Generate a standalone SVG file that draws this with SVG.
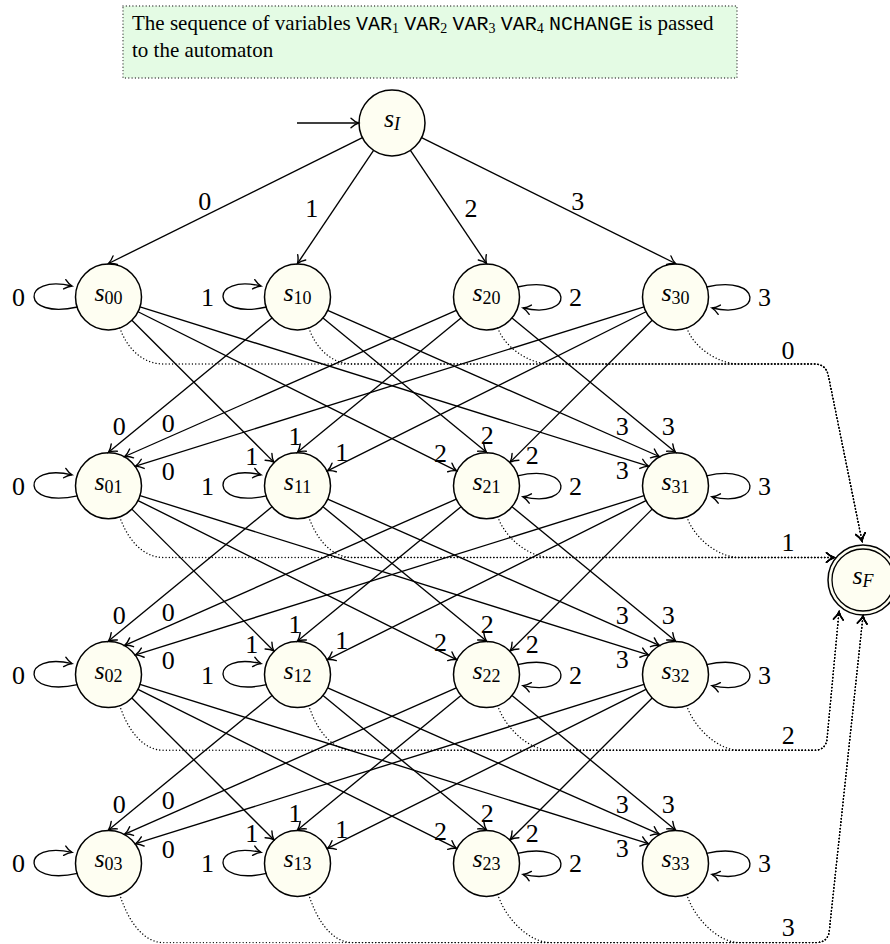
<svg xmlns="http://www.w3.org/2000/svg" width="890" height="944" viewBox="0 0 890 944">
<defs>
<marker id="arr" viewBox="-9 -6 11 12" markerWidth="11" markerHeight="12" refX="0" refY="0" orient="auto" markerUnits="userSpaceOnUse">
<path d="M -7.5 -4.8 C -5 -2.4 -2 -0.7 0 0 C -2 0.7 -5 2.4 -7.5 4.8" fill="none" stroke="#000" stroke-width="1.4" stroke-linecap="round"/>
</marker>
<style>
.e{fill:none;stroke:#000;stroke-width:1.35;marker-end:url(#arr)}
.d{fill:none;stroke:#000;stroke-width:1.4;stroke-dasharray:0.01 3.3;stroke-linecap:round;marker-end:url(#arr)}
.nc{fill:#fefef2;stroke:#000;stroke-width:1.5}
.lb{font-family:"Liberation Serif",serif;font-size:26px;text-anchor:middle;fill:#000}
.nl{font-family:"Liberation Serif",serif;font-size:26px;text-anchor:middle;fill:#000}
.nl .s{font-style:italic}
.nl .sub{font-size:18px}
.bt{font-family:"Liberation Serif",serif;font-size:21px;fill:#000}
.bt .m{font-family:"Liberation Mono",monospace;font-size:20px}
.bt .b{font-size:14px}
</style>
</defs>
<rect width="890" height="944" fill="#fff"/>

<g id="note">
<rect x="123" y="6" width="614" height="72" fill="#e4fbe4" stroke="#333" stroke-width="1.3" stroke-dasharray="0.01 3.3" stroke-linecap="round"/>
<text class="bt" x="132" y="30">The sequence of variables <tspan class="m">VAR</tspan><tspan class="b" dy="3">1</tspan><tspan dy="-3"> </tspan><tspan class="m">VAR</tspan><tspan class="b" dy="3">2</tspan><tspan dy="-3"> </tspan><tspan class="m">VAR</tspan><tspan class="b" dy="3">3</tspan><tspan dy="-3"> </tspan><tspan class="m">VAR</tspan><tspan class="b" dy="3">4</tspan><tspan dy="-3"> </tspan><tspan class="m">NCHANGE</tspan> is passed</text>
<text class="bt" x="132" y="57">to the automaton</text>
</g>

<g id="sI"><circle class="nc" cx="392" cy="123" r="33"/><text class="nl" x="392" y="127"><tspan class="s">s</tspan><tspan class="sub s" dy="3">I</tspan></text></g>
<g id="sF"><circle class="nc" cx="863" cy="580" r="35"/><circle fill="none" stroke="#000" stroke-width="1.3" cx="863" cy="580" r="31"/><text class="nl" x="863" y="584"><tspan class="s">s</tspan><tspan class="sub s" dy="3">F</tspan></text></g>

<g id="s00"><circle class="nc" cx="108.5" cy="297" r="33"/><text class="nl" x="108.5" y="301"><tspan class="s">s</tspan><tspan class="sub" dy="3">00</tspan></text></g>
<g id="s10"><circle class="nc" cx="297.5" cy="297" r="33"/><text class="nl" x="297.5" y="301"><tspan class="s">s</tspan><tspan class="sub" dy="3">10</tspan></text></g>
<g id="s20"><circle class="nc" cx="486.5" cy="297" r="33"/><text class="nl" x="486.5" y="301"><tspan class="s">s</tspan><tspan class="sub" dy="3">20</tspan></text></g>
<g id="s30"><circle class="nc" cx="675.5" cy="297" r="33"/><text class="nl" x="675.5" y="301"><tspan class="s">s</tspan><tspan class="sub" dy="3">30</tspan></text></g>
<g id="s01"><circle class="nc" cx="108.5" cy="485.8" r="33"/><text class="nl" x="108.5" y="489.8"><tspan class="s">s</tspan><tspan class="sub" dy="3">01</tspan></text></g>
<g id="s11"><circle class="nc" cx="297.5" cy="485.8" r="33"/><text class="nl" x="297.5" y="489.8"><tspan class="s">s</tspan><tspan class="sub" dy="3">11</tspan></text></g>
<g id="s21"><circle class="nc" cx="486.5" cy="485.8" r="33"/><text class="nl" x="486.5" y="489.8"><tspan class="s">s</tspan><tspan class="sub" dy="3">21</tspan></text></g>
<g id="s31"><circle class="nc" cx="675.5" cy="485.8" r="33"/><text class="nl" x="675.5" y="489.8"><tspan class="s">s</tspan><tspan class="sub" dy="3">31</tspan></text></g>
<g id="s02"><circle class="nc" cx="108.5" cy="674.6" r="33"/><text class="nl" x="108.5" y="678.6"><tspan class="s">s</tspan><tspan class="sub" dy="3">02</tspan></text></g>
<g id="s12"><circle class="nc" cx="297.5" cy="674.6" r="33"/><text class="nl" x="297.5" y="678.6"><tspan class="s">s</tspan><tspan class="sub" dy="3">12</tspan></text></g>
<g id="s22"><circle class="nc" cx="486.5" cy="674.6" r="33"/><text class="nl" x="486.5" y="678.6"><tspan class="s">s</tspan><tspan class="sub" dy="3">22</tspan></text></g>
<g id="s32"><circle class="nc" cx="675.5" cy="674.6" r="33"/><text class="nl" x="675.5" y="678.6"><tspan class="s">s</tspan><tspan class="sub" dy="3">32</tspan></text></g>
<g id="s03"><circle class="nc" cx="108.5" cy="863.4" r="33"/><text class="nl" x="108.5" y="867.4"><tspan class="s">s</tspan><tspan class="sub" dy="3">03</tspan></text></g>
<g id="s13"><circle class="nc" cx="297.5" cy="863.4" r="33"/><text class="nl" x="297.5" y="867.4"><tspan class="s">s</tspan><tspan class="sub" dy="3">13</tspan></text></g>
<g id="s23"><circle class="nc" cx="486.5" cy="863.4" r="33"/><text class="nl" x="486.5" y="867.4"><tspan class="s">s</tspan><tspan class="sub" dy="3">23</tspan></text></g>
<g id="s33"><circle class="nc" cx="675.5" cy="863.4" r="33"/><text class="nl" x="675.5" y="867.4"><tspan class="s">s</tspan><tspan class="sub" dy="3">33</tspan></text></g>

<g id="connectors">
<path class="e" d="M 297 123 L 358.5 123"/>
<path class="e" d="M 362.43 137.65 L 108.5 263.5"/>
<path class="e" d="M 373.58 150.39 L 297.5 263.5"/>
<path class="e" d="M 410.42 150.39 L 486.5 263.5"/>
<path class="e" d="M 421.57 137.65 L 675.5 263.5"/>
<text class="lb" x="204.8" y="210">0</text>
<text class="lb" x="311.7" y="217">1</text>
<text class="lb" x="471" y="217">2</text>
<text class="lb" x="577.7" y="209.7">3</text>

<g id="loops0">
<path class="e" d="M 77.5 307 C 20.5 320 20.5 274 72 286"/>
<path class="e" d="M 266.5 307 C 209.5 320 209.5 274 261 286"/>
<path class="e" d="M 517.5 287 C 574.5 274 574.5 320 523 308"/>
<path class="e" d="M 706.5 287 C 763.5 274 763.5 320 712 308"/>
<text class="lb" x="18.5" y="306">0</text>
<text class="lb" x="207.5" y="306">1</text>
<text class="lb" x="575.5" y="306">2</text>
<text class="lb" x="764.5" y="306">3</text>
</g>
<use href="#loops0" transform="translate(0,188.8)"/>
<use href="#loops0" transform="translate(0,377.6)"/>
<use href="#loops0" transform="translate(0,566.4)"/>

<g id="band0">
<path class="e" d="M 272.0 317.95 L 108.5 452.3"/>
<path class="e" d="M 456.31 310.31 L 124.74 456.5"/>
<path class="e" d="M 644.01 306.86 L 135.6 466.11"/>
<path class="e" d="M 131.85 320.32 L 273.81 462.11"/>
<path class="e" d="M 461.0 317.95 L 297.5 452.3"/>
<path class="e" d="M 645.97 311.74 L 327.46 470.8"/>
<path class="e" d="M 138.03 311.74 L 456.54 470.8"/>
<path class="e" d="M 323.0 317.95 L 486.5 452.3"/>
<path class="e" d="M 652.15 320.32 L 510.19 462.11"/>
<path class="e" d="M 139.99 306.86 L 648.4 466.11"/>
<path class="e" d="M 327.69 310.31 L 659.26 456.5"/>
<path class="e" d="M 512.0 317.95 L 675.5 452.3"/>
<text class="lb" x="119.3" y="435.3">0</text>
<text class="lb" x="168.3" y="431.8">0</text>
<text class="lb" x="168.3" y="480.3">0</text>
<text class="lb" x="251.7" y="464.5">1</text>
<text class="lb" x="295" y="444.5">1</text>
<text class="lb" x="341.7" y="460.5">1</text>
<text class="lb" x="440.5" y="462.3">2</text>
<text class="lb" x="487.2" y="444">2</text>
<text class="lb" x="532.2" y="464">2</text>
<text class="lb" x="622.2" y="479">3</text>
<text class="lb" x="622.2" y="435">3</text>
<text class="lb" x="668.2" y="435">3</text>
</g>
<use href="#band0" transform="translate(0,188.8)"/>
<use href="#band0" transform="translate(0,377.6)"/>

<path class="d" d="M 119.8 328 C 126.6 347 141.5 364 163.5 364 L 814 364 Q 826 364 828.4 375.8 L 862 541"/>
<path class="d" d="M 308.8 328 C 315.6 347 330.5 364 352.5 364 L 814 364 Q 826 364 828.4 375.8 L 862 541"/>
<path class="d" d="M 497.8 328 C 504.6 347 528.5 364 550.5 364 L 814 364 Q 826 364 828.4 375.8 L 862 541"/>
<path class="d" d="M 686.8 328 C 693.6 347 717.5 364 739.5 364 L 814 364 Q 826 364 828.4 375.8 L 862 541"/>

<path class="d" d="M 119.8 516.8 C 126.6 537 141.5 557.5 163.5 557.5 L 834 557.5"/>
<path class="d" d="M 308.8 516.8 C 315.6 537 330.5 557.5 352.5 557.5 L 834 557.5"/>
<path class="d" d="M 497.8 516.8 C 504.6 537 528.5 557.5 550.5 557.5 L 834 557.5"/>
<path class="d" d="M 686.8 516.8 C 693.6 537 717.5 557.5 739.5 557.5 L 834 557.5"/>

<path class="d" d="M 119.8 705.6 C 126.6 727 141.5 750.3 163.5 750.3 L 814 750.3 Q 826 750.3 827.1 738.3 L 839 612"/>
<path class="d" d="M 308.8 705.6 C 315.6 727 330.5 750.3 352.5 750.3 L 814 750.3 Q 826 750.3 827.1 738.3 L 839 612"/>
<path class="d" d="M 497.8 705.6 C 504.6 727 528.5 750.3 550.5 750.3 L 814 750.3 Q 826 750.3 827.1 738.3 L 839 612"/>
<path class="d" d="M 686.8 705.6 C 693.6 727 717.5 750.3 739.5 750.3 L 814 750.3 Q 826 750.3 827.1 738.3 L 839 612"/>

<path class="d" d="M 119.8 894.4 C 126.6 917 141.5 942.6 163.5 942.6 L 816 942.6 Q 828 942.6 829.3 930.7 L 863 616"/>
<path class="d" d="M 308.8 894.4 C 315.6 917 330.5 942.6 352.5 942.6 L 816 942.6 Q 828 942.6 829.3 930.7 L 863 616"/>
<path class="d" d="M 497.8 894.4 C 504.6 917 528.5 942.6 550.5 942.6 L 816 942.6 Q 828 942.6 829.3 930.7 L 863 616"/>
<path class="d" d="M 686.8 894.4 C 693.6 917 717.5 942.6 739.5 942.6 L 816 942.6 Q 828 942.6 829.3 930.7 L 863 616"/>

<text class="lb" x="788" y="359">0</text>
<text class="lb" x="788" y="550.7">1</text>
<text class="lb" x="788.3" y="744">2</text>
<text class="lb" x="788.3" y="935.7">3</text>
</g>
</svg>
